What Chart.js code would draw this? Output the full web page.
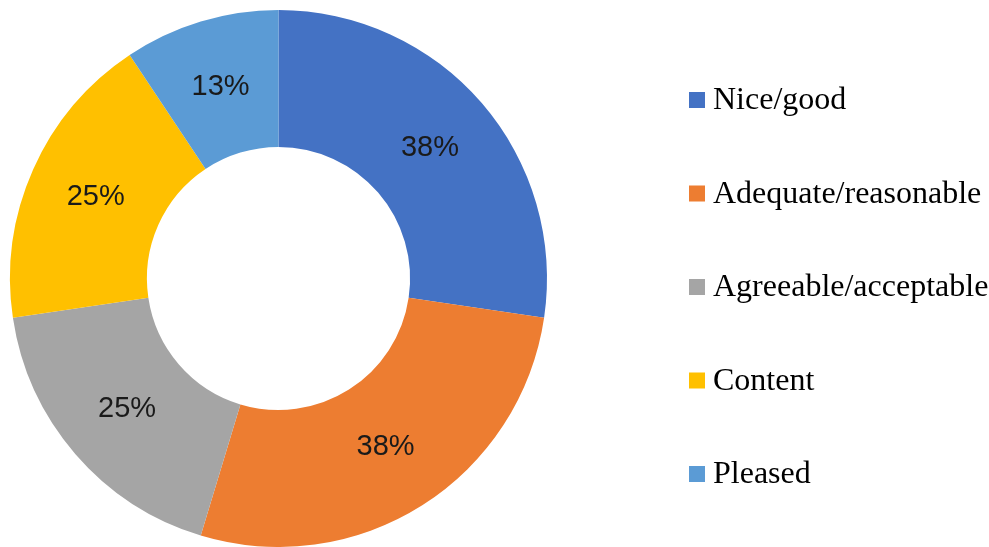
<!DOCTYPE html>
<html>
<head>
<meta charset="utf-8">
<script src="https://cdn.jsdelivr.net/npm/chart.js@4.4.0/dist/chart.umd.min.js"></script>
<style>
  html, body { margin: 0; padding: 0; background: #fff; }
  #wrap { width: 989px; height: 547px; position: relative; }
</style>
</head>
<body>
<div id="wrap"><canvas id="donut"></canvas></div>
<script>
const categories = ["Nice/good", "Adequate/reasonable", "Agreeable/acceptable", "Content", "Pleased"];
const values = [38, 38, 25, 25, 13];
const colors = ["#4472C4", "#ED7D31", "#A5A5A5", "#FFC000", "#5B9BD5"];

// value labels in the middle of each ring segment
const sliceLabels = {
    id: 'sliceLabels',
    afterDatasetsDraw(chart) {
        const ctx = chart.ctx;
        const meta = chart.getDatasetMeta(0);
        ctx.save();
        ctx.font = '29px "Liberation Sans", Arial, sans-serif';
        ctx.fillStyle = '#1a1a1a';
        ctx.textAlign = 'center';
        ctx.textBaseline = 'middle';
        meta.data.forEach((arc, i) => {
            const p = arc.tooltipPosition();
            ctx.fillText(chart.data.datasets[0].data[i] + '%', p.x, p.y);
        });
        ctx.restore();
    }
};

// legend column on the right
const sideLegend = {
    id: 'sideLegend',
    afterDraw(chart) {
        const ctx = chart.ctx;
        const x0 = 689, y0 = 100, step = 93.5, box = 16;
        ctx.save();
        ctx.font = '32px "Liberation Serif", "DejaVu Serif", serif';
        ctx.textBaseline = 'middle';
        ctx.textAlign = 'left';
        chart.data.labels.forEach((label, i) => {
            const y = y0 + i * step;
            ctx.fillStyle = chart.data.datasets[0].backgroundColor[i];
            ctx.fillRect(x0, y - box / 2, box, box);
            ctx.fillStyle = '#000';
            ctx.fillText(label, x0 + 24, y + 1);
        });
        ctx.restore();
    }
};

new Chart(document.getElementById('donut').getContext('2d'), {
    type: 'doughnut',
    data: {
        labels: categories,
        datasets: [{
            data: values,
            backgroundColor: colors,
            borderWidth: 0
        }]
    },
    options: {
        responsive: true,
        maintainAspectRatio: false,
        animation: false,
        cutout: '49%',
        layout: { padding: { top: 10, bottom: 0, left: 10, right: 442 } },
        plugins: {
            legend: { display: false },
            tooltip: { enabled: false }
        }
    },
    plugins: [sliceLabels, sideLegend]
});
</script>
</body>
</html>
